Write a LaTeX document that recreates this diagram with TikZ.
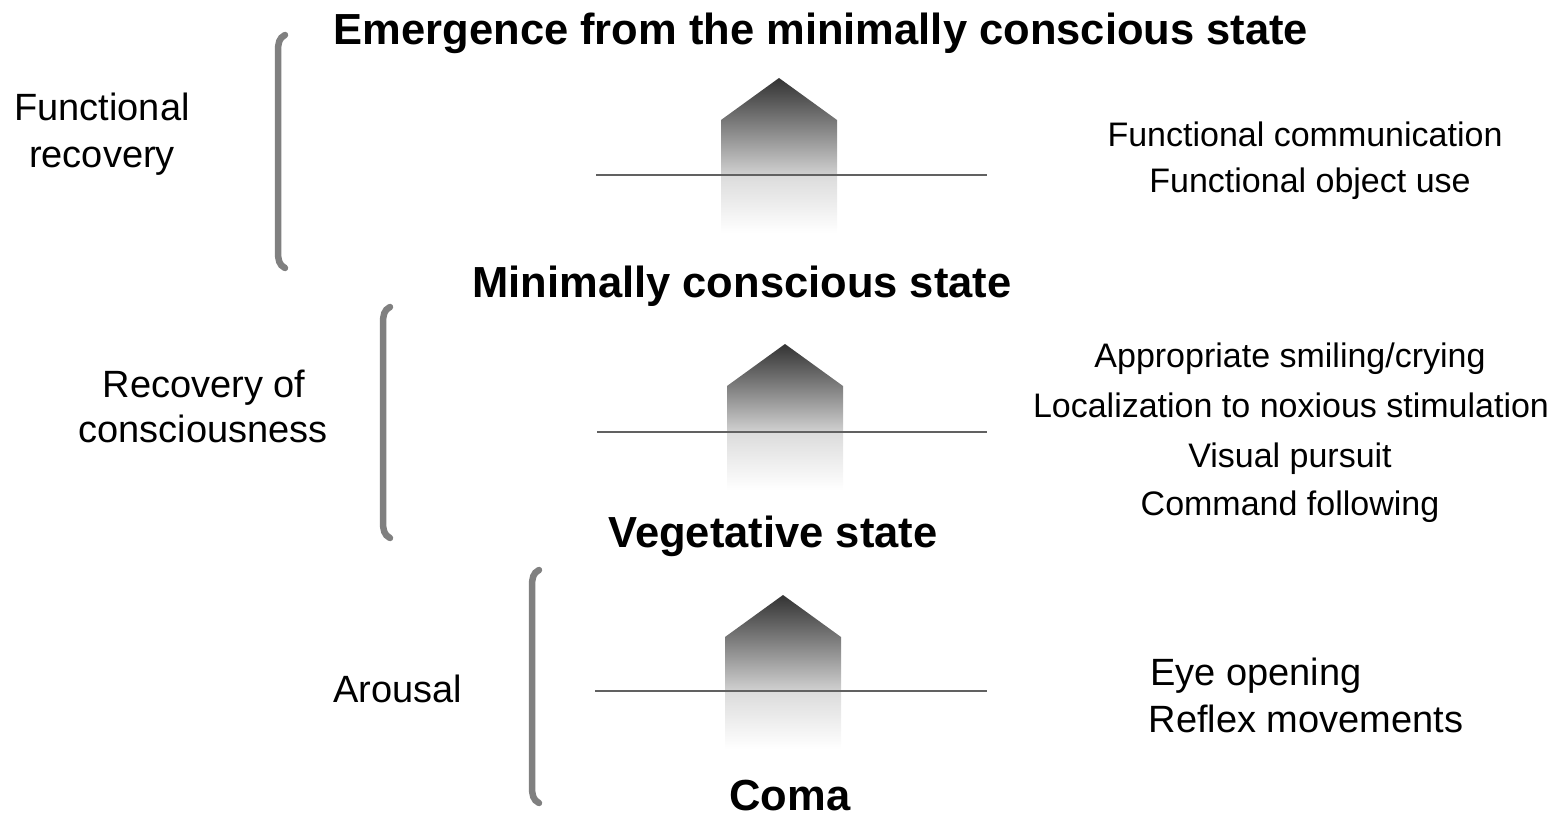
\documentclass[tikz,border=0pt]{standalone}
\usepackage{fontspec}
\setmainfont{Liberation Sans}
\begin{document}
\begin{tikzpicture}[x=1pt,y=-1pt,
  stage/.style={font=\fontsize{43.5}{50}\selectfont\bfseries, anchor=base, inner sep=0pt},
  sidelbl/.style={font=\fontsize{38}{46}\selectfont, anchor=base, inner sep=0pt},
  signlbl/.style={font=\fontsize{34}{40}\selectfont, anchor=base, inner sep=0pt},
  bigsign/.style={font=\fontsize{38}{46}\selectfont, anchor=base, inner sep=0pt},
  brack/.style={draw=black!50, line width=6.5pt, line cap=round},
  baseline/.style={draw=black!62, line width=2.2pt},
]
\useasboundingbox (0,0) rectangle (1563,818);

% house-shaped arrows with reflections
\newcommand{\house}[4]{% #1 center x, #2 apex y, #3 shoulder y, #4 line y
  \shade[top color=black!80, bottom color=black!18]
    (#1-58,#4) -- (#1-58,#3) -- (#1,#2) -- (#1+58,#3) -- (#1+58,#4) -- cycle;
  \shade[top color=black!14, bottom color=white]
    (#1-58,#4) rectangle (#1+58,#4+58);
}
\house{779}{78}{120}{175}
\house{785}{344}{386}{432}
\house{783}{595}{637}{691}

\draw[baseline] (596,175) -- (987,175);
\draw[baseline] (597,432) -- (987,432);
\draw[baseline] (595,691) -- (987,691);

% brackets
\draw[brack] (285,35) .. controls (279,38) and (278,43) .. (278,52) -- (278,251) .. controls (278,260) and (279,265) .. (285,268);
\draw[brack] (390,307) .. controls (384,310) and (383,315) .. (383,324) -- (383,521) .. controls (383,530) and (384,535) .. (390,538);
\draw[brack] (539,570) .. controls (533,573) and (532,578) .. (532,587) -- (532,786) .. controls (532,795) and (533,800) .. (539,803);

% stage titles
\node[stage] (emcs) at (821,45) {Emergence from the minimally conscious state};
\node[stage] (mcs) at (742,298) {Minimally conscious state};
\node[stage] (vs) at (773,547) {Vegetative state};
\node[stage] (coma) at (790,810) {Coma};

% left labels
\node[sidelbl] (fr1) at (102,121) {Functional};
\node[sidelbl] (fr2) at (102,168) {recovery};
\node[sidelbl] (rc1) at (204,397) {Recovery of};
\node[sidelbl] (rc2) at (203,442) {consciousness};
\node[sidelbl] (ar) at (398,702) {Arousal};

% right labels
\node[signlbl] (s1) at (1305,147) {Functional communication};
\node[signlbl] (s2) at (1310,193) {Functional object use};
\node[signlbl] (s3) at (1290,367) {Appropriate smiling/crying};
\node[signlbl] (s4) at (1291,417) {Localization to noxious stimulation};
\node[signlbl] (s5) at (1290,467) {Visual pursuit};
\node[signlbl] (s6) at (1290,515) {Command following};
\node[bigsign] (s7) at (1256,685) {Eye opening};
\node[bigsign] (s8) at (1306,732) {Reflex movements};
\end{tikzpicture}
\end{document}
